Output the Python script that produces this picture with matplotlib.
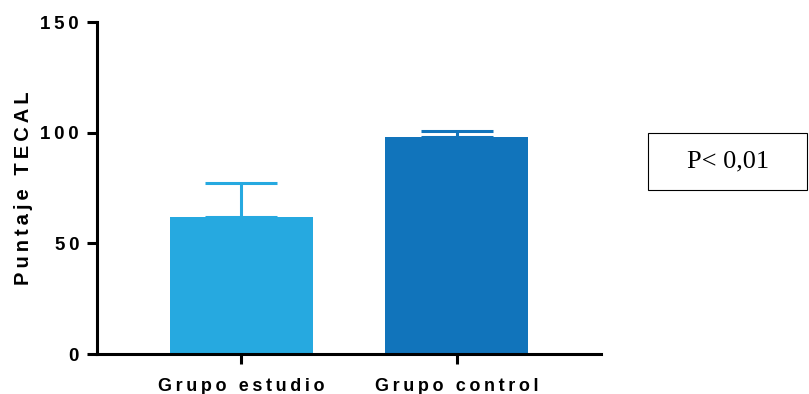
import numpy as np
import matplotlib.pyplot as plt
import matplotlib as mpl
from matplotlib.patches import Rectangle

groups = ["Grupo estudio", "Grupo control"]
means = [62, 98]
err_up = [15.5, 2.8]
colors = ["#26a9e0", "#1174bb"]
yticks = [0, 50, 100, 150]


def spaced(s):
    # mimic wide letter tracking
    return "\u2009".join(s)


mpl.rcParams['font.family'] = ['Liberation Sans', 'DejaVu Sans']

fig = plt.figure(figsize=(8.09, 3.94), dpi=100)
ax = fig.add_axes([0.12, 0.1015, 0.623, 0.8425])

x = np.arange(len(groups))
ax.bar(x, means, width=0.665, color=colors, zorder=2)
for xi, m, e, c in zip(x, means, err_up, colors):
    ax.errorbar(xi, m, yerr=[[0], [e]], fmt='none', ecolor=c,
                elinewidth=2.2, capsize=26, capthick=2.2, zorder=1)

ax.set_xlim(-0.67, 1.67)
ax.set_ylim(0, 150)
ax.set_yticks(yticks)
ax.set_yticklabels([spaced(str(t)) for t in yticks], fontsize=13.5,
                   fontweight='bold')
ax.set_xticks(x)
ax.set_xticklabels([spaced(g) for g in groups], fontsize=13,
                   fontweight='bold')
ax.set_ylabel(spaced("Puntaje TECAL"), fontsize=14.5, fontweight='bold',
              labelpad=5)

for s in ['top', 'right']:
    ax.spines[s].set_visible(False)
for s in ['left', 'bottom']:
    ax.spines[s].set_linewidth(2.2)
ax.tick_params(width=2.2, length=7)
ax.tick_params(axis='y', pad=6)
ax.tick_params(axis='x', pad=10)

fig.add_artist(Rectangle((0.801, 0.518), 0.197, 0.144, transform=fig.transFigure,
                         fill=False, edgecolor='black', linewidth=0.8))
fig.text(0.9, 0.59, "P< 0,01", fontsize=19, family='Liberation Serif',
         ha='center', va='center')

plt.savefig("out.png", dpi=100)
